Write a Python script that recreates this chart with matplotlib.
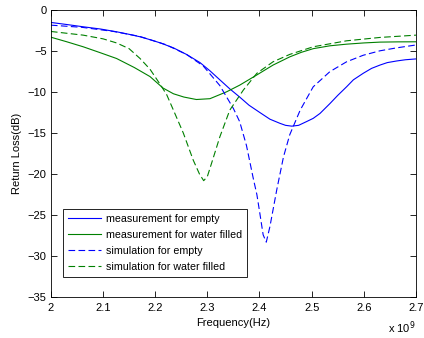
import matplotlib.pyplot as plt

# frequency in GHz (axis shows x 10^9), return loss in dB
f_meas_empty = [2.0, 2.03, 2.062, 2.095, 2.126, 2.15, 2.171, 2.19, 2.21, 2.235, 2.26, 2.286, 2.305, 2.324,
                2.343, 2.362, 2.38, 2.401, 2.42, 2.439, 2.45, 2.462, 2.475, 2.49, 2.503, 2.516, 2.535, 2.55,
                2.567, 2.58, 2.599, 2.615, 2.631, 2.645, 2.663, 2.68, 2.7]
rl_meas_empty = [-1.5, -1.75, -2.03, -2.3, -2.64, -2.95, -3.25, -3.6, -4.0, -4.6, -5.4, -6.4, -7.4, -8.5,
                 -9.6, -10.6, -11.6, -12.5, -13.3, -13.8, -14.05, -14.15, -14.05, -13.6, -13.2, -12.6, -11.4, -10.4,
                 -9.35, -8.5, -7.7, -7.1, -6.7, -6.4, -6.2, -6.05, -5.95]

f_meas_water = [2.0, 2.03, 2.062, 2.095, 2.126, 2.16, 2.19, 2.215, 2.235, 2.255, 2.279, 2.305, 2.337, 2.362,
                2.395, 2.426, 2.458, 2.48, 2.503, 2.535, 2.567, 2.6, 2.631, 2.665, 2.7]
rl_meas_water = [-3.3, -3.85, -4.47, -5.2, -5.9, -7.0, -8.1, -9.5, -10.2, -10.6, -10.9, -10.8, -9.96, -9.15,
                 -7.9, -6.7, -5.7, -5.15, -4.7, -4.35, -4.15, -4.0, -3.9, -3.87, -3.86]

f_sim_empty = [2.0, 2.06, 2.12, 2.17, 2.22, 2.26, 2.292, 2.324, 2.35, 2.362, 2.375, 2.388, 2.395, 2.40,
               2.407, 2.413, 2.42, 2.433, 2.446, 2.458, 2.478, 2.503, 2.535, 2.567, 2.599, 2.631, 2.663, 2.7]
rl_sim_empty = [-1.83, -2.1, -2.6, -3.2, -4.2, -5.4, -6.8, -9.2, -12.0, -13.6, -16.5, -20.5, -22.5, -24.5,
                -27.4, -28.3, -26.4, -21.95, -17.9, -15.2, -12.2, -9.35, -7.5, -6.3, -5.5, -4.96, -4.6, -4.25]

f_sim_water = [2.0, 2.062, 2.1, 2.126, 2.15, 2.171, 2.19, 2.209, 2.222, 2.235, 2.254, 2.273, 2.285, 2.293,
               2.3, 2.308, 2.324, 2.343, 2.369, 2.395, 2.426, 2.458, 2.503, 2.567, 2.631, 2.7]
rl_sim_water = [-2.6, -3.05, -3.5, -4.0, -4.7, -5.9, -7.2, -9.0, -10.3, -12.2, -15.0, -18.3, -20.0, -20.8,
                -20.3, -18.7, -15.45, -12.2, -9.75, -7.7, -6.3, -5.4, -4.47, -3.74, -3.33, -3.05]

plt.rcParams['font.family'] = 'Liberation Sans'
plt.rcParams['font.size'] = 8

fig = plt.figure(figsize=(4.24, 3.38), dpi=100)
ax = fig.add_axes([0.120, 0.121, 0.861, 0.849])

green = '#008000'
dash = (0, (6, 3))
ax.plot(f_meas_empty, rl_meas_empty, color='blue', lw=0.8, label='measurement for empty')
ax.plot(f_meas_water, rl_meas_water, color=green, lw=0.8, label='measurement for water filled')
ax.plot(f_sim_empty, rl_sim_empty, color='blue', lw=0.8, linestyle=dash, label='simulation for empty')
ax.plot(f_sim_water, rl_sim_water, color=green, lw=0.8, linestyle=dash, label='simulation for water filled')

ax.set_xlim(2.0, 2.7)
ax.set_ylim(-35, 0)
ax.set_xticks([2.0, 2.1, 2.2, 2.3, 2.4, 2.5, 2.6, 2.7])
ax.set_xticklabels(['2', '2.1', '2.2', '2.3', '2.4', '2.5', '2.6', '2.7'])
ax.set_yticks(range(-35, 1, 5))
ax.tick_params(direction='in', top=True, right=True, length=4, width=0.6, pad=3)
ax.tick_params(axis='x', pad=4)
for s in ax.spines.values():
    s.set_linewidth(0.6)

ax.set_xlabel('Frequency(Hz)', labelpad=4)
ax.set_ylabel('Return Loss(dB)', labelpad=4)
ax.text(1.0, -0.078, r'x 10$^9$', transform=ax.transAxes, ha='right', va='top', fontsize=8)

leg = ax.legend(loc='lower left', bbox_to_anchor=(0.033, 0.07), fancybox=False,
                edgecolor='black', framealpha=1, borderaxespad=0, handlelength=3.1,
                labelspacing=0.55, handletextpad=0.4, borderpad=0.5, fontsize=7.7)
leg.get_frame().set_linewidth(0.6)

plt.savefig('out.png', dpi=100)
